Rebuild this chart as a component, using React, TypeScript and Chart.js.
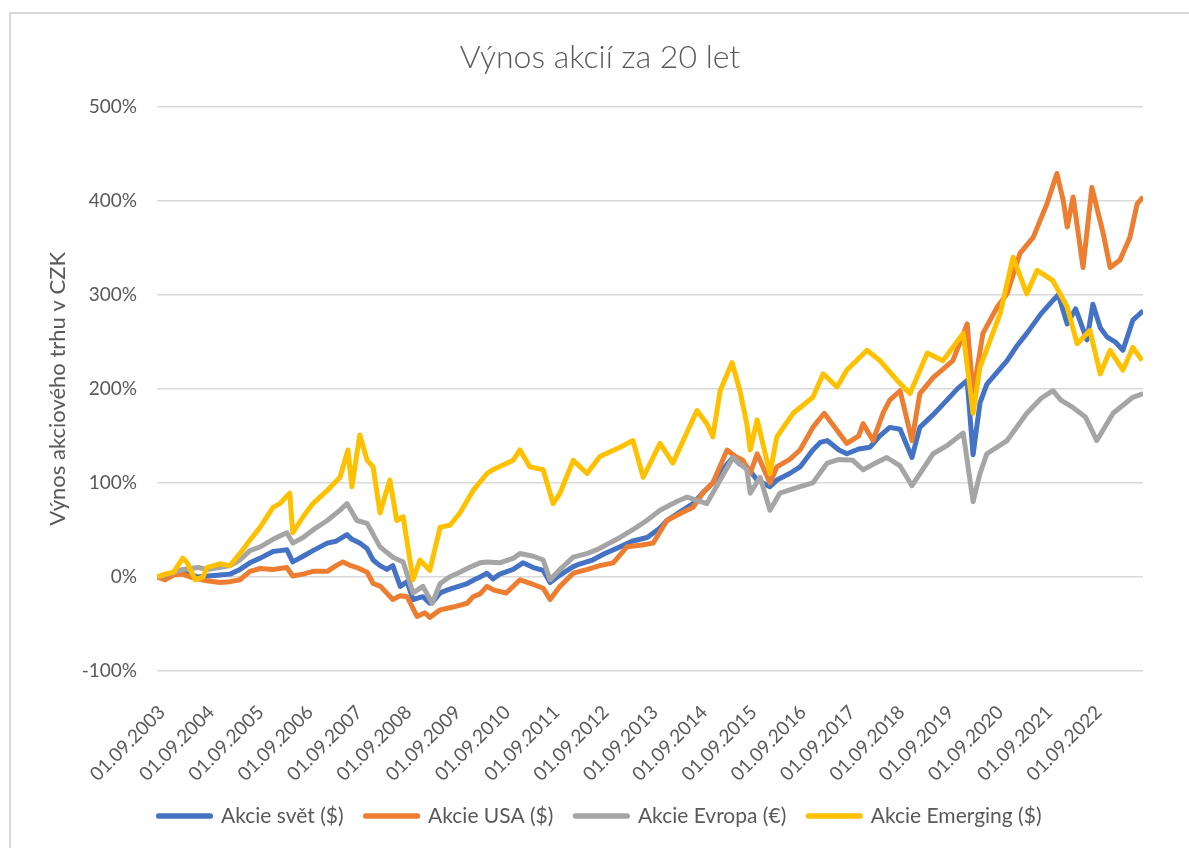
import React, { useEffect, useRef } from 'react';
import { Chart, registerables } from 'chart.js';

Chart.register(...registerables);

const TITLE = 'Výnos akcií za 20 let';
const Y_TITLE = 'Výnos akciového trhu v CZK';
const FONT = 'Lato, "Open Sans", sans-serif';
const TEXT = '#595959';

const X_START = 2003 + 8 / 12;
const X_END = 2023 + 8 / 12;
const xTickYears = [2003, 2004, 2005, 2006, 2007, 2008, 2009, 2010, 2011, 2012, 2013, 2014, 2015, 2016, 2017, 2018, 2019, 2020, 2021, 2022];
const xTickLabels = ['01.09.2003', '01.09.2004', '01.09.2005', '01.09.2006', '01.09.2007', '01.09.2008', '01.09.2009', '01.09.2010', '01.09.2011', '01.09.2012', '01.09.2013', '01.09.2014', '01.09.2015', '01.09.2016', '01.09.2017', '01.09.2018', '01.09.2019', '01.09.2020', '01.09.2021', '01.09.2022'];

const seriesNames = ['Akcie svět ($)', 'Akcie USA ($)', 'Akcie Evropa (€)', 'Akcie Emerging ($)'];
const seriesColors = ['#4472C4', '#ED7D31', '#A5A5A5', '#FFC000'];

// [year, return %]
const svet = [
  [2003.67, 0], [2003.9, 2], [2004.1, 6], [2004.3, 3], [2004.5, 0], [2004.7, 1], [2004.94, 2], [2005.15, 3], [2005.35, 8], [2005.55, 15],
  [2005.76, 20], [2006.02, 27], [2006.16, 28], [2006.3, 29], [2006.42, 16], [2006.63, 22], [2006.83, 28], [2007.12, 36], [2007.3, 38], [2007.52, 45],
  [2007.62, 40], [2007.78, 36], [2007.93, 30], [2008.05, 18], [2008.19, 12], [2008.33, 8], [2008.45, 12], [2008.6, -10], [2008.74, -5], [2008.86, -24],
  [2009.06, -21], [2009.2, -28], [2009.27, -26], [2009.41, -17], [2009.55, -14], [2009.67, -12], [2009.96, -7], [2010.1, -3], [2010.22, 0], [2010.36, 4],
  [2010.48, -2], [2010.62, 3], [2010.89, 8], [2011.09, 15], [2011.3, 10], [2011.5, 7], [2011.64, -6], [2011.84, 2], [2012.11, 11], [2012.25, 14],
  [2012.5, 18], [2012.75, 25], [2013.06, 32], [2013.3, 38], [2013.61, 42], [2013.87, 52], [2014.01, 60], [2014.3, 70], [2014.54, 78], [2014.75, 90],
  [2014.94, 100], [2015.1, 112], [2015.35, 127], [2015.49, 120], [2015.63, 117], [2015.84, 103], [2016.1, 96], [2016.24, 103], [2016.5, 110], [2016.71, 117],
  [2016.97, 135], [2017.12, 143], [2017.26, 145], [2017.5, 135], [2017.66, 131], [2017.9, 136], [2018.13, 138], [2018.33, 150], [2018.53, 159], [2018.74, 157],
  [2018.98, 127], [2019.14, 159], [2019.4, 172], [2019.69, 188], [2019.9, 200], [2020.1, 209], [2020.22, 130], [2020.36, 185], [2020.5, 205], [2020.91, 230],
  [2021.1, 245], [2021.31, 259], [2021.6, 280], [2021.84, 294], [2021.95, 300], [2022.13, 269], [2022.3, 285], [2022.53, 252], [2022.65, 290], [2022.8, 265],
  [2022.94, 255], [2023.1, 250], [2023.26, 241], [2023.46, 273], [2023.67, 283],
];

const usa = [
  [2003.67, 0], [2003.83, -3], [2004.0, 2], [2004.19, 3], [2004.34, 0], [2004.68, -4], [2004.94, -6], [2005.15, -5], [2005.35, -3], [2005.55, 6],
  [2005.76, 9], [2006.02, 8], [2006.3, 10], [2006.42, 1], [2006.63, 3], [2006.83, 6], [2007.12, 6], [2007.3, 12], [2007.44, 16], [2007.6, 12],
  [2007.72, 10], [2007.93, 5], [2008.05, -7], [2008.2, -10], [2008.45, -24], [2008.6, -20], [2008.74, -21], [2008.94, -42], [2009.1, -38], [2009.2, -43],
  [2009.41, -35], [2009.67, -32], [2009.96, -28], [2010.08, -21], [2010.22, -18], [2010.36, -10], [2010.5, -14], [2010.75, -17], [2011.03, -3], [2011.3, -8],
  [2011.5, -12], [2011.64, -24], [2011.84, -10], [2012.11, 4], [2012.4, 8], [2012.65, 12], [2012.92, 15], [2013.2, 32], [2013.5, 34], [2013.73, 36],
  [2014.01, 60], [2014.3, 68], [2014.54, 74], [2014.75, 90], [2014.94, 100], [2015.23, 135], [2015.4, 128], [2015.55, 124], [2015.7, 110], [2015.84, 131],
  [2016.1, 100], [2016.24, 117], [2016.5, 125], [2016.71, 135], [2016.97, 159], [2017.2, 174], [2017.46, 156], [2017.66, 142], [2017.9, 150], [2017.99, 163],
  [2018.19, 145], [2018.4, 175], [2018.53, 188], [2018.74, 198], [2018.98, 145], [2019.14, 195], [2019.41, 212], [2019.7, 225], [2019.81, 230], [2020.1, 269],
  [2020.22, 195], [2020.42, 259], [2020.71, 287], [2020.91, 301], [2021.17, 344], [2021.44, 361], [2021.72, 397], [2021.92, 429], [2022.05, 400], [2022.13, 372],
  [2022.25, 404], [2022.45, 329], [2022.63, 414], [2022.86, 365], [2023.0, 329], [2023.2, 337], [2023.4, 361], [2023.55, 397], [2023.67, 404],
];

const evropa = [
  [2003.67, 0], [2003.9, 3], [2004.19, 8], [2004.5, 10], [2004.68, 8], [2004.94, 10], [2005.15, 12], [2005.35, 18], [2005.55, 28], [2005.76, 32],
  [2006.02, 40], [2006.3, 47], [2006.42, 36], [2006.63, 42], [2006.83, 50], [2007.12, 60], [2007.38, 71], [2007.52, 78], [2007.72, 60], [2007.93, 57],
  [2008.19, 32], [2008.45, 21], [2008.66, 16], [2008.86, -17], [2009.06, -10], [2009.25, -28], [2009.41, -7], [2009.6, 0], [2009.81, 5], [2010.0, 10],
  [2010.22, 15], [2010.36, 16], [2010.62, 15], [2010.9, 20], [2011.03, 25], [2011.3, 22], [2011.5, 18], [2011.64, -3], [2011.84, 8], [2012.11, 21],
  [2012.4, 25], [2012.59, 29], [2013.06, 42], [2013.4, 53], [2013.6, 60], [2013.87, 71], [2014.2, 80], [2014.42, 85], [2014.82, 78], [2015.09, 103],
  [2015.35, 127], [2015.55, 118], [2015.63, 114], [2015.7, 89], [2015.9, 106], [2016.1, 71], [2016.3, 89], [2016.71, 96], [2016.97, 100], [2017.26, 121],
  [2017.5, 125], [2017.78, 124], [2017.99, 114], [2018.2, 120], [2018.47, 127], [2018.74, 118], [2018.98, 97], [2019.41, 131], [2019.7, 140], [2020.02, 153],
  [2020.22, 80], [2020.36, 110], [2020.5, 131], [2020.91, 145], [2021.31, 174], [2021.6, 190], [2021.84, 198], [2022.0, 188], [2022.25, 180], [2022.5, 170],
  [2022.73, 145], [2022.9, 160], [2023.06, 174], [2023.46, 191], [2023.67, 195],
];

const emerging = [
  [2003.67, 0], [2003.83, 3], [2004.0, 5], [2004.19, 20], [2004.28, 15], [2004.44, -3], [2004.6, 0], [2004.68, 10], [2004.94, 14], [2005.15, 12],
  [2005.35, 25], [2005.55, 39], [2005.76, 53], [2006.02, 74], [2006.16, 78], [2006.36, 89], [2006.42, 47], [2006.63, 64], [2006.83, 78], [2007.12, 92],
  [2007.38, 106], [2007.54, 135], [2007.62, 96], [2007.78, 151], [2007.93, 124], [2008.05, 117], [2008.19, 68], [2008.39, 103], [2008.53, 60], [2008.66, 64],
  [2008.86, -3], [2009.0, 18], [2009.2, 7], [2009.41, 53], [2009.61, 55], [2009.81, 68], [2010.08, 92], [2010.36, 110], [2010.48, 114], [2010.89, 124],
  [2011.03, 135], [2011.23, 117], [2011.5, 114], [2011.7, 78], [2011.84, 89], [2012.11, 124], [2012.39, 110], [2012.65, 128], [2013.06, 138], [2013.32, 145],
  [2013.53, 106], [2013.87, 142], [2014.13, 121], [2014.34, 145], [2014.62, 177], [2014.82, 163], [2014.94, 149], [2015.09, 198], [2015.33, 228], [2015.49, 198],
  [2015.63, 163], [2015.7, 135], [2015.84, 167], [2016.1, 110], [2016.24, 149], [2016.57, 174], [2016.97, 191], [2017.18, 216], [2017.46, 202], [2017.66, 220],
  [2018.07, 241], [2018.33, 230], [2018.68, 209], [2018.94, 195], [2019.29, 238], [2019.61, 230], [2020.02, 259], [2020.22, 174], [2020.36, 223], [2020.77, 280],
  [2021.03, 340], [2021.31, 301], [2021.52, 326], [2021.84, 315], [2022.13, 287], [2022.33, 248], [2022.59, 262], [2022.8, 216], [2023.0, 241], [2023.26, 220],
  [2023.46, 244], [2023.65, 230],
];

const allSeries = [svet, usa, evropa, emerging];

export default function App() {
  const canvasRef = useRef<HTMLCanvasElement | null>(null);

  useEffect(() => {
    document.documentElement.style.overflow = 'hidden';
    document.body.style.overflow = 'hidden';
    const canvas = canvasRef.current;
    if (!canvas) return;
    const datasets = allSeries.map((s, i) => ({
      label: seriesNames[i],
      data: s.map(([x, y]) => ({ x, y })),
      borderColor: seriesColors[i],
      backgroundColor: seriesColors[i],
      borderWidth: 5,
      borderJoinStyle: 'round' as const,
      pointRadius: 0,
      tension: 0,
      order: 4 - i,
    }));
    const chart = new Chart(canvas, {
      type: 'line',
      data: { datasets },
      options: {
        animation: false,
        responsive: false,
        devicePixelRatio: 1,
        layout: { padding: { left: 0, right: 0, top: 0, bottom: 11.5 } },
        plugins: {
          title: {
            display: true,
            text: TITLE,
            color: TEXT,
            font: { family: FONT, size: 32, weight: '300' as any },
            padding: { top: 24, bottom: 30.3 },
          },
          legend: {
            position: 'bottom',
            labels: {
              color: TEXT,
              font: { family: FONT, size: 21 },
              boxWidth: 52,
              boxHeight: 0.5,
              padding: 22,
              sort: (a: any, b: any) => a.datasetIndex - b.datasetIndex,
            },
          },
          tooltip: { enabled: false },
        },
        scales: {
          x: {
            type: 'linear',
            min: X_START,
            max: X_END,
            grid: { display: false },
            border: { display: false },
            afterBuildTicks: (s: any) => {
              s.ticks = xTickYears.map((y) => ({ value: y + 8 / 12 }));
            },
            afterFit: (s: any) => {
              s.height = 112.5;
            },
            ticks: {
              autoSkip: false,
              minRotation: 45,
              maxRotation: 45,
              padding: 22,
              labelOffset: 5,
              color: TEXT,
              font: { family: FONT, size: 19 },
              callback: (_v: any, i: number) => xTickLabels[i],
            },
          },
          y: {
            min: -100,
            max: 500,
            afterFit: (s: any) => {
              s.width = 146;
            },
            grid: { color: '#d9d9d9', lineWidth: 1.5, drawTicks: false },
            border: { display: false },
            ticks: {
              stepSize: 100,
              padding: 20,
              color: TEXT,
              font: { family: FONT, size: 19 },
              callback: (v: any) => v + '%',
            },
            title: {
              display: true,
              text: Y_TITLE,
              color: TEXT,
              font: { family: FONT, size: 22 },
              padding: { top: 34, bottom: 0 },
            },
          },
          yRightSpace: {
            position: 'right',
            display: true,
            grid: { display: false },
            border: { display: false },
            ticks: { display: false },
            afterFit: (s: any) => {
              s.width = 46;
            },
          },
        },
      },
    });
    return () => chart.destroy();
  }, []);

  return (
    <div
      style={{
        position: 'absolute',
        left: 9,
        top: 12,
        width: 1180,
        height: 836,
        borderLeft: '2px solid #d9d9d9',
        borderTop: '2px solid #d9d9d9',
        background: '#fff',
      }}
    >
      <canvas ref={canvasRef} width={1178} height={834} style={{ display: 'block', width: 1178, height: 834 }} />
    </div>
  );
}
